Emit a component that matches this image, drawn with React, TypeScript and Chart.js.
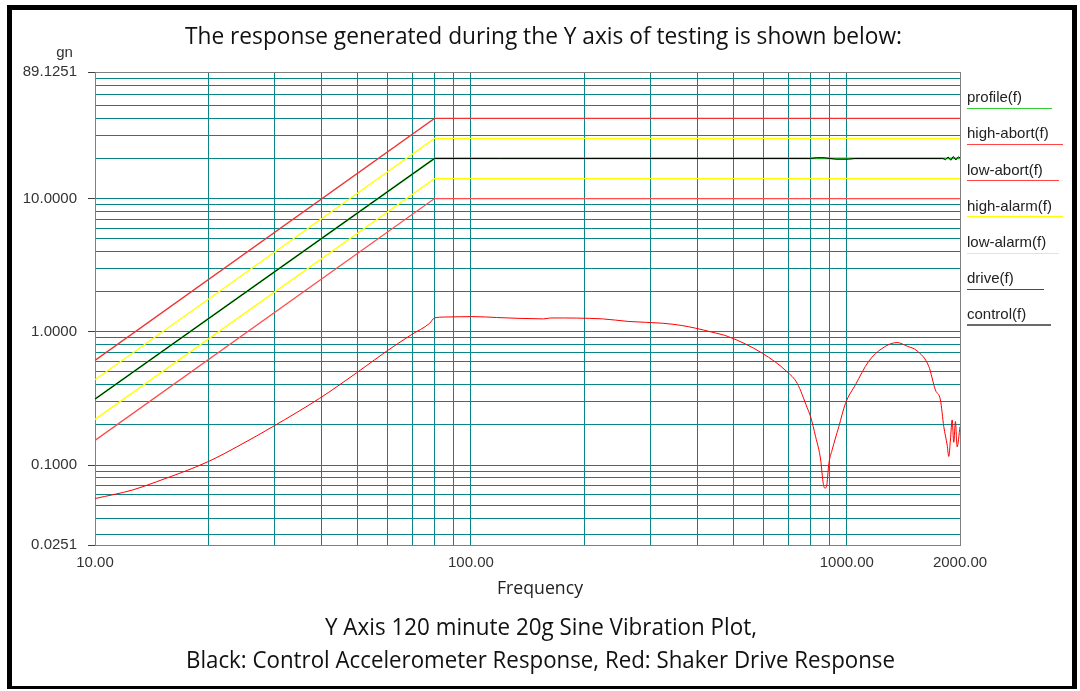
import React, { useEffect, useRef } from 'react';
import { Chart, registerables } from 'chart.js';

Chart.register(...registerables);

// ---------- data ----------
const profileFreq = [10, 80, 2000];
const profileVal = [0.3125, 20, 20];
const highAbortVal = [0.61, 40, 40];
const lowAbortVal = [0.153, 10, 10];
const highAlarmVal = [0.437, 28.3, 28.3];
const lowAlarmVal = [0.22, 14.1, 14.1];

const controlFreq = [10, 80, 120, 800, 830, 870, 900, 935, 1010, 1050, 1800, 1830, 1860, 1890, 1920, 1950, 1980, 2000];
const controlVal = [0.3125, 20, 20, 20, 20.25, 20.25, 20, 19.75, 19.75, 20, 20, 19.6, 20.5, 19.4, 20.7, 19.5, 20.6, 20.2];

const driveFreq = [
  10, 12.6, 14.6, 20, 24.3, 29.7, 39.6, 49.5, 59.5, 69.4, 77.7, 80, 85, 102, 117, 156, 163, 224, 263, 323, 364, 395,
  437, 484, 596, 694, 738, 784, 801, 826, 852, 864, 874, 883, 896, 914, 952, 992, 1054, 1143, 1241, 1360, 1447,
  1537, 1652, 1720, 1774, 1811, 1849, 1867, 1886, 1906, 1925, 1945, 1965, 2000,
];
const driveVal = [
  0.056, 0.065, 0.075, 0.106, 0.141, 0.194, 0.317, 0.489, 0.711, 0.95, 1.16, 1.27, 1.29, 1.3, 1.28, 1.25, 1.27, 1.25,
  1.195, 1.16, 1.115, 1.066, 0.995, 0.92, 0.69, 0.5, 0.41, 0.27, 0.23, 0.163, 0.109, 0.075, 0.067, 0.069, 0.103, 0.13,
  0.194, 0.291, 0.4, 0.6, 0.75, 0.83, 0.78, 0.72, 0.55, 0.366, 0.308, 0.194, 0.141, 0.116, 0.154, 0.218, 0.148, 0.212,
  0.137, 0.194,
];

const xGridValues = [10, 20, 30, 40, 50, 60, 70, 80, 90, 100, 200, 300, 400, 500, 600, 700, 800, 900, 1000, 2000];
const yGridValues = [
  0.0251, 0.03, 0.04, 0.05, 0.06, 0.07, 0.08, 0.09, 0.1, 0.2, 0.3, 0.4, 0.5, 0.6, 0.7, 0.8, 0.9, 1, 2, 3, 4, 5, 6, 7, 8,
  9, 10, 20, 30, 40, 50, 60, 70, 80, 89.1251,
];
const xTickLabels = [10, 100, 1000, 2000];
const yTickLabels = [0.0251, 0.1, 1, 10, 89.1251];

const legendLabels = ['profile(f)', 'high-abort(f)', 'low-abort(f)', 'high-alarm(f)', 'low-alarm(f)', 'drive(f)', 'control(f)'];

const titleText = 'The response generated during the Y axis of testing is shown below:';
const caption1 = 'Y Axis 120 minute 20g Sine Vibration Plot,';
const caption2 = 'Black: Control Accelerometer Response, Red: Shaker Drive Response';
const xAxisTitle = 'Frequency';
const yUnit = 'gn';

// ---------- styles ----------
const TEAL = '#0a8585';
const AXIS_GRAY = '#808080';
const legendColors = ['#33cc33', '#ff4444', '#ff4444', '#ffff00', '#ffff00', '#ff0000', '#6a6a6a'];
const legendLineLen = [85, 96, 92, 96, 92, 77, 84];
const legendLineWidth = [1, 1, 1, 1, 1, 1, 2];

const isIn = (list: number[], v: number) => list.some((l) => Math.abs(l - v) / l < 1e-6);
const pts = (xs: number[], ys: number[]) => xs.map((x, i) => ({ x, y: ys[i] }));

function fitText(ctx: CanvasRenderingContext2D, text: string, cx: number, baseline: number, width: number, font: string, color: string) {
  ctx.save();
  ctx.font = font;
  const w = ctx.measureText(text).width;
  ctx.translate(cx, baseline);
  ctx.scale(width / w, 1);
  ctx.textAlign = 'center';
  ctx.textBaseline = 'alphabetic';
  ctx.fillStyle = color;
  ctx.fillText(text, 0, 0);
  ctx.restore();
}

const decorPlugin = {
  id: 'decor',
  beforeDraw(chart: any) {
    const ctx = chart.ctx as CanvasRenderingContext2D;
    ctx.save();
    ctx.fillStyle = '#ffffff';
    ctx.fillRect(0, 0, chart.width, chart.height);
    ctx.restore();
  },
  beforeDatasetsDraw(chart: any) {
    const ctx = chart.ctx as CanvasRenderingContext2D;
    const a = chart.chartArea;
    ctx.save();
    ctx.strokeStyle = AXIS_GRAY;
    ctx.lineWidth = 1;
    ctx.strokeRect(Math.round(a.left) + 0.5, Math.round(a.top) + 0.5, Math.round(a.right - a.left), Math.round(a.bottom - a.top));
    ctx.restore();
  },
  afterDraw(chart: any) {
    const ctx = chart.ctx as CanvasRenderingContext2D;
    ctx.save();
    // outer black frame
    ctx.fillStyle = '#000000';
    ctx.fillRect(7, 5, 5, 684);
    ctx.fillRect(7, 5, 1070, 5);
    ctx.fillRect(1072, 5, 5, 684);
    ctx.fillRect(7, 686, 1070, 3);

    // titles
    fitText(ctx, titleText, 543.5, 44, 717, '23px "Open Sans"', '#111111');
    fitText(ctx, caption1, 541, 635, 432, '23px "Open Sans"', '#111111');
    fitText(ctx, caption2, 540.5, 668, 709, '23px "Open Sans"', '#111111');
    fitText(ctx, xAxisTitle, 540, 594, 86, '18px "Open Sans"', '#222222');

    // unit
    ctx.font = '15px "Liberation Sans"';
    ctx.fillStyle = '#333333';
    ctx.textAlign = 'center';
    ctx.textBaseline = 'middle';
    ctx.fillText(yUnit, 64.5, 53);

    // legend
    ctx.textAlign = 'left';
    legendLabels.forEach((lab, i) => {
      const ty = 98 + 36.2 * i;
      const ly = 107.5 + 36.3 * i;
      ctx.fillStyle = '#222222';
      ctx.textBaseline = 'middle';
      ctx.fillText(lab, 967, ty);
      ctx.strokeStyle = legendColors[i];
      ctx.lineWidth = legendLineWidth[i];
      ctx.beginPath();
      const yy = legendLineWidth[i] === 1 ? Math.round(ly) + 0.5 : Math.round(ly);
      ctx.moveTo(967, yy);
      ctx.lineTo(967 + legendLineLen[i], yy);
      ctx.stroke();
    });
    ctx.restore();
  },
};

export default function App() {
  const ref = useRef<HTMLCanvasElement | null>(null);
  useEffect(() => {
    document.body.style.margin = '0';
    const canvas = ref.current;
    if (!canvas) return;
    const line = (label: string, data: any[], color: string, width: number, order: number, smooth = false) => ({
      label,
      data,
      borderColor: color,
      backgroundColor: color,
      borderWidth: width,
      pointRadius: 0,
      tension: 0,
      cubicInterpolationMode: smooth ? 'monotone' : 'default',
      fill: false,
      order,
    });
    const chart = new Chart(canvas, {
      type: 'line',
      data: {
        datasets: [
          line('control(f)', pts(controlFreq, controlVal), '#000000', 1, 0),
          line('profile(f)', pts(profileFreq, profileVal), '#22cc22', 1.8, 1),
          line('drive(f)', pts(driveFreq, driveVal), '#ff0000', 1, 2, true),
          line('high-abort(f)', pts(profileFreq, highAbortVal), '#f03434', 1.3, 3),
          line('low-abort(f)', pts(profileFreq, lowAbortVal), '#ff4d4d', 1.3, 4),
          line('high-alarm(f)', pts(profileFreq, highAlarmVal), '#ffff00', 1.3, 5),
          line('low-alarm(f)', pts(profileFreq, lowAlarmVal), '#ffff00', 1.3, 6),
        ],
      },
      plugins: [decorPlugin],
      options: {
        responsive: false,
        animation: false,
        devicePixelRatio: 1,
        layout: { padding: { left: 0, top: 72, right: 120, bottom: 0 } },
        plugins: { legend: { display: false }, tooltip: { enabled: false }, title: { display: false } },
        scales: {
          x: {
            type: 'logarithmic',
            min: 10,
            max: 2000,
            afterBuildTicks: (s: any) => {
              s.ticks = xGridValues.map((v) => ({ value: v }));
            },
            afterFit: (s: any) => {
              s.height = 146;
            },
            ticks: {
              autoSkip: false,
              maxRotation: 0,
              minRotation: 0,
              padding: 9,
              color: '#333333',
              font: { family: '"Liberation Sans"', size: 15 },
              callback: (v: any) => (isIn(xTickLabels, Number(v)) ? Number(v).toFixed(2) : ''),
            },
            grid: { color: TEAL, lineWidth: 1, drawTicks: false },
            border: { color: AXIS_GRAY, width: 1 },
          },
          y: {
            type: 'logarithmic',
            min: 0.0251,
            max: 89.1251,
            afterBuildTicks: (s: any) => {
              s.ticks = yGridValues.map((v) => ({ value: v }));
            },
            afterFit: (s: any) => {
              s.width = 95;
            },
            ticks: {
              autoSkip: false,
              padding: 11,
              color: '#333333',
              font: { family: '"Liberation Sans"', size: 15 },
              callback: (v: any) => (isIn(yTickLabels, Number(v)) ? Number(v).toFixed(4) : ''),
            },
            grid: {
              color: TEAL,
              lineWidth: 1,
              drawTicks: true,
              tickLength: 7,
              tickColor: (c: any) => (c.tick && isIn(yTickLabels, c.tick.value) ? '#404040' : 'rgba(0,0,0,0)'),
            },
            border: { color: AXIS_GRAY, width: 1 },
          },
        },
      } as any,
    });
    return () => chart.destroy();
  }, []);
  return <canvas ref={ref} width={1080} height={691} style={{ display: 'block' }} />;
}
